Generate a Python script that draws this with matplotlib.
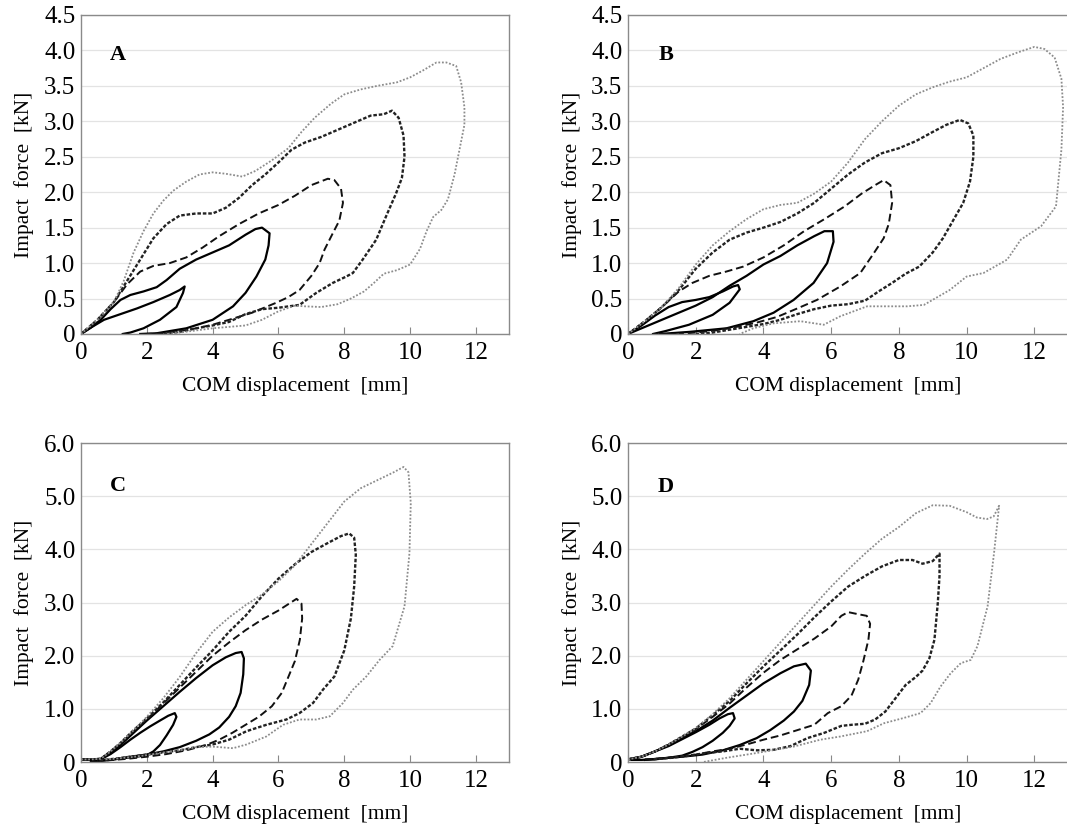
import matplotlib
matplotlib.use('Agg')
import matplotlib.pyplot as plt

plt.rcParams['font.family'] = ['Liberation Serif', 'DejaVu Serif']

# ---- Panel A ----
a_small_x = [0, 0.3, 0.7, 1.2, 1.7, 2.2, 2.7, 3.0, 3.15, 3.1, 2.9, 2.4, 1.9, 1.5, 1.27]
a_small_y = [0, 0.09, 0.2, 0.28, 0.36, 0.45, 0.55, 0.62, 0.67, 0.58, 0.38, 0.2, 0.08, 0.02, 0]
a_mid_x = [0, 0.3, 0.6, 0.9, 1.2, 1.5, 1.9, 2.3, 2.6, 3.0, 3.5, 4.0, 4.5, 5.0, 5.3, 5.5, 5.73,
           5.7, 5.6, 5.33, 5.0, 4.62, 4.0, 3.2, 2.3, 1.8]
a_mid_y = [0, 0.09, 0.2, 0.35, 0.48, 0.55, 0.6, 0.66, 0.76, 0.92, 1.05, 1.15, 1.25, 1.4, 1.48, 1.5, 1.42,
           1.25, 1.05, 0.81, 0.58, 0.39, 0.2, 0.08, 0.01, 0]
a_dash_x = [0, 0.5, 1.0, 1.4, 1.8, 2.2, 2.7, 3.2, 3.7, 4.2, 4.8, 5.4, 6.0, 6.5, 7.0, 7.5, 7.7, 7.9,
            7.96, 7.85, 7.65, 7.4, 7.25, 7.0, 6.64, 6.3, 5.93, 5.2, 4.5, 4.0, 3.5, 3.0, 2.5, 2.0]
a_dash_y = [0, 0.2, 0.45, 0.7, 0.88, 0.96, 1.0, 1.08, 1.22, 1.38, 1.55, 1.7, 1.82, 1.95, 2.1, 2.19, 2.17, 2.05,
            1.85, 1.6, 1.42, 1.19, 1.0, 0.82, 0.62, 0.52, 0.44, 0.3, 0.2, 0.13, 0.08, 0.04, 0.01, 0]
a_ddot_x = [0, 0.5, 1.0, 1.4, 1.8, 2.2, 2.6, 3.0, 3.5, 4.0, 4.4, 4.8, 5.2, 5.6, 6.0, 6.4, 6.8, 7.3, 7.8,
            8.3, 8.8, 9.2, 9.45, 9.65, 9.8, 9.83, 9.75, 9.57, 9.27, 8.97, 8.56, 8.26, 8.06, 7.65, 7.15, 6.64,
            6.0, 5.5, 5.0, 4.5, 4.0, 3.5, 3.0, 2.5]
a_ddot_y = [0, 0.2, 0.45, 0.75, 1.05, 1.35, 1.55, 1.67, 1.7, 1.7, 1.78, 1.92, 2.1, 2.25, 2.42, 2.6, 2.7, 2.78, 2.88,
            2.98, 3.08, 3.1, 3.15, 3.05, 2.8, 2.5, 2.2, 1.98, 1.66, 1.33, 1.05, 0.86, 0.81, 0.72, 0.58, 0.41,
            0.37, 0.35, 0.28, 0.17, 0.12, 0.08, 0.03, 0]
a_dot_x = [0, 0.5, 1.0, 1.3, 1.6, 1.9, 2.2, 2.5, 2.8, 3.2, 3.6, 4.0, 4.4, 4.9, 5.3, 5.8, 6.3, 6.7, 7.1, 7.6,
           8.0, 8.5, 9.0, 9.6, 10.0, 10.4, 10.8, 11.1, 11.4, 11.55, 11.65, 11.65, 11.5, 11.35, 11.15, 10.95,
           10.7, 10.5, 10.3, 10.0, 9.6, 9.2, 8.9, 8.6, 8.2, 7.8, 7.3, 6.8, 6.5, 6.0, 5.5, 5.0, 4.5, 4.0,
           3.5, 3.0, 2.6]
a_dot_y = [0, 0.2, 0.45, 0.75, 1.15, 1.45, 1.7, 1.88, 2.02, 2.15, 2.25, 2.28, 2.26, 2.22, 2.3, 2.45, 2.62, 2.85,
           3.05, 3.25, 3.38, 3.45, 3.5, 3.55, 3.62, 3.72, 3.83, 3.83, 3.78, 3.55, 3.2, 2.95, 2.6, 2.25, 1.9,
           1.75, 1.65, 1.45, 1.2, 0.98, 0.9, 0.85, 0.72, 0.6, 0.5, 0.42, 0.38, 0.39, 0.4, 0.32, 0.2, 0.12,
           0.1, 0.08, 0.05, 0.02, 0]

# ---- Panel B ----
b_small_x = [0, 0.4, 0.8, 1.2, 1.6, 2.0, 2.4, 2.8, 3.1, 3.25, 3.3, 3.0, 2.5, 1.8, 1.1, 0.74]
b_small_y = [0, 0.12, 0.26, 0.38, 0.45, 0.48, 0.52, 0.6, 0.67, 0.69, 0.63, 0.44, 0.27, 0.13, 0.04, 0]
b_mid_x = [0, 0.5, 1.0, 1.5, 2.0, 2.5, 3.0, 3.5, 4.0, 4.5, 5.0, 5.5, 5.8, 6.05, 6.07, 5.88, 5.48, 4.89,
           4.3, 3.7, 2.91, 1.83, 0.94]
b_mid_y = [0, 0.1, 0.2, 0.3, 0.4, 0.52, 0.68, 0.82, 0.98, 1.1, 1.25, 1.38, 1.45, 1.45, 1.3, 1.0, 0.72, 0.48,
           0.3, 0.18, 0.08, 0.03, 0]
b_dash_x = [0, 0.5, 1.0, 1.5, 1.9, 2.4, 2.9, 3.4, 4.0, 4.6, 5.2, 5.8, 6.4, 6.9, 7.3, 7.55, 7.75, 7.8,
            7.7, 7.55, 7.26, 6.86, 6.27, 5.58, 5.0, 4.4, 3.8, 3.2, 2.6, 2.0, 1.5]
b_dash_y = [0, 0.18, 0.38, 0.6, 0.72, 0.82, 0.88, 0.95, 1.08, 1.25, 1.45, 1.62, 1.8, 1.98, 2.1, 2.17, 2.1, 1.85,
            1.55, 1.35, 1.14, 0.86, 0.67, 0.48, 0.36, 0.24, 0.16, 0.1, 0.05, 0.02, 0]
b_ddot_x = [0, 0.5, 1.0, 1.5, 2.0, 2.5, 3.0, 3.5, 4.0, 4.5, 5.0, 5.5, 6.0, 6.5, 7.0, 7.5, 8.0, 8.5, 9.0,
            9.4, 9.8, 10.05, 10.2, 10.2, 10.1, 9.9, 9.6, 9.3, 9.0, 8.6, 8.2, 7.8, 7.4, 7.0, 6.5, 6.0, 5.5,
            5.0, 4.5, 4.0, 3.5, 3.0, 2.5, 2.0]
b_ddot_y = [0, 0.18, 0.38, 0.62, 0.92, 1.15, 1.33, 1.43, 1.5, 1.58, 1.7, 1.85, 2.05, 2.25, 2.42, 2.55, 2.62, 2.72,
            2.85, 2.95, 3.02, 2.97, 2.8, 2.5, 2.15, 1.85, 1.6, 1.35, 1.15, 0.95, 0.85, 0.72, 0.6, 0.47, 0.42,
            0.4, 0.35, 0.28, 0.2, 0.14, 0.1, 0.06, 0.02, 0]
b_dot_x = [0, 0.5, 1.0, 1.5, 2.0, 2.5, 3.0, 3.5, 4.0, 4.5, 5.0, 5.5, 6.0, 6.5, 7.0, 7.5, 8.0, 8.5, 9.0,
           9.5, 10.0, 10.5, 11.0, 11.5, 12.0, 12.3, 12.6, 12.8, 12.85, 12.8, 12.64, 12.2, 11.6, 11.2, 10.5,
           10.0, 9.5, 8.74, 8.25, 7.06, 6.27, 5.78, 5.09, 4.3, 3.7, 3.3]
b_dot_y = [0, 0.18, 0.38, 0.65, 0.98, 1.25, 1.45, 1.62, 1.76, 1.82, 1.85, 1.98, 2.15, 2.42, 2.75, 3.0, 3.22,
           3.38, 3.48, 3.56, 3.62, 3.75, 3.88, 3.97, 4.05, 4.02, 3.9, 3.6, 3.2, 2.6, 1.8, 1.52, 1.33, 1.05,
           0.86, 0.81, 0.62, 0.41, 0.39, 0.39, 0.25, 0.13, 0.18, 0.15, 0.08, 0]

# ---- Panel C ----
c_small_x = [0, 0.3, 0.6, 0.9, 1.2, 1.5, 1.8, 2.1, 2.4, 2.65, 2.85, 2.9, 2.8, 2.6, 2.4, 2.2, 2.0, 1.7,
             1.4, 1.0, 0.6, 0.3]
c_small_y = [0.05, 0.04, 0.05, 0.15, 0.28, 0.42, 0.55, 0.67, 0.78, 0.87, 0.92, 0.85, 0.7, 0.5, 0.32, 0.2,
             0.13, 0.1, 0.08, 0.05, 0.02, 0.02]
c_mid_x = [0, 0.3, 0.6, 0.9, 1.2, 1.6, 2.0, 2.5, 3.0, 3.5, 4.0, 4.4, 4.7, 4.88, 4.95, 4.93, 4.85, 4.7,
           4.5, 4.2, 3.9, 3.5, 3.0, 2.5, 2.0, 1.5, 1.0, 0.5]
c_mid_y = [0.05, 0.05, 0.06, 0.18, 0.32, 0.55, 0.78, 1.05, 1.32, 1.58, 1.82, 1.97, 2.05, 2.07, 1.95, 1.65,
           1.3, 1.05, 0.85, 0.65, 0.52, 0.4, 0.28, 0.2, 0.14, 0.1, 0.05, 0.02]
c_dash_x = [0, 0.3, 0.6, 0.9, 1.2, 1.6, 2.0, 2.5, 3.0, 3.5, 4.0, 4.5, 5.0, 5.5, 6.0, 6.3, 6.55, 6.7,
            6.72, 6.65, 6.5, 6.3, 6.1, 5.8, 5.4, 5.0, 4.6, 4.2, 3.8, 3.2, 2.6, 2.0, 1.4, 0.8]
c_dash_y = [0.05, 0.05, 0.06, 0.2, 0.35, 0.58, 0.8, 1.1, 1.4, 1.7, 2.0, 2.25, 2.48, 2.68, 2.85, 2.97, 3.07,
            2.98, 2.7, 2.3, 1.9, 1.6, 1.3, 1.05, 0.85, 0.7, 0.55, 0.42, 0.32, 0.22, 0.15, 0.1, 0.06, 0.03]
c_ddot_x = [0, 0.3, 0.6, 0.9, 1.2, 1.6, 2.0, 2.5, 3.0, 3.5, 4.0, 4.5, 5.0, 5.5, 6.0, 6.5, 7.0, 7.5, 7.9,
            8.15, 8.3, 8.35, 8.3, 8.2, 8.0, 7.7, 7.35, 7.05, 6.64, 6.24, 5.63, 5.03, 4.5, 4.0, 3.5, 3.0,
            2.5, 2.0, 1.5, 1.0, 0.5]
c_ddot_y = [0.05, 0.05, 0.06, 0.2, 0.36, 0.6, 0.82, 1.12, 1.45, 1.78, 2.1, 2.45, 2.75, 3.12, 3.45, 3.72, 3.95,
            4.12, 4.25, 4.3, 4.22, 3.9, 3.3, 2.7, 2.1, 1.61, 1.36, 1.11, 0.92, 0.8, 0.7, 0.58, 0.42, 0.33,
            0.28, 0.22, 0.18, 0.14, 0.1, 0.06, 0.03]
c_dot_x = [0, 0.3, 0.6, 0.9, 1.2, 1.6, 2.0, 2.5, 3.0, 3.5, 4.0, 4.5, 5.0, 5.5, 6.0, 6.5, 7.0, 7.5, 8.0,
           8.5, 9.0, 9.5, 9.8, 9.95, 10.02, 9.98, 9.83, 9.47, 9.07, 8.67, 8.26, 7.96, 7.56, 7.15, 6.64,
           6.14, 5.63, 5.03, 4.62, 4.0, 3.5, 3.0, 2.5, 2.0, 1.5, 1.0, 0.7]
c_dot_y = [0.05, 0.05, 0.06, 0.2, 0.36, 0.6, 0.85, 1.2, 1.6, 2.05, 2.45, 2.72, 2.95, 3.15, 3.4, 3.7, 4.1, 4.5,
           4.9, 5.15, 5.3, 5.45, 5.55, 5.45, 4.87, 3.93, 2.93, 2.18, 1.92, 1.61, 1.36, 1.11, 0.86, 0.8, 0.8,
           0.7, 0.48, 0.33, 0.26, 0.29, 0.28, 0.22, 0.18, 0.13, 0.09, 0.06, 0.05]

# ---- Panel D ----
d_small_x = [0, 0.4, 0.8, 1.2, 1.6, 2.0, 2.4, 2.7, 2.95, 3.1, 3.15, 3.0, 2.8, 2.5, 2.2, 1.9, 1.6, 1.2,
             0.8, 0.4, 0.1]
d_small_y = [0.05, 0.1, 0.2, 0.3, 0.43, 0.56, 0.7, 0.82, 0.9, 0.92, 0.82, 0.68, 0.55, 0.4, 0.28, 0.19, 0.12,
             0.08, 0.05, 0.04, 0.04]
d_mid_x = [0, 0.4, 0.8, 1.2, 1.6, 2.0, 2.5, 3.0, 3.5, 4.0, 4.5, 4.9, 5.25, 5.4, 5.35, 5.15, 4.9, 4.6,
           4.2, 3.8, 3.3, 2.8, 2.2, 1.6, 1.0, 0.5]
d_mid_y = [0.05, 0.1, 0.2, 0.32, 0.45, 0.58, 0.78, 1.02, 1.25, 1.48, 1.67, 1.8, 1.85, 1.72, 1.45, 1.15, 0.95,
           0.78, 0.6, 0.45, 0.32, 0.22, 0.14, 0.1, 0.07, 0.04]
d_dash_x = [0, 0.4, 0.8, 1.2, 1.6, 2.0, 2.5, 3.0, 3.5, 4.0, 4.5, 5.0, 5.5, 6.0, 6.3, 6.5, 6.8, 7.05,
            7.15, 7.1, 6.95, 6.8, 6.6, 6.3, 5.9, 5.5, 5.0, 4.5, 4.0, 3.5, 3.0, 2.5, 2.0, 1.5, 1.0, 0.5]
d_dash_y = [0.05, 0.1, 0.2, 0.33, 0.47, 0.62, 0.85, 1.1, 1.4, 1.68, 1.92, 2.12, 2.32, 2.55, 2.75, 2.82, 2.78,
            2.75, 2.6, 2.3, 1.9, 1.55, 1.25, 1.05, 0.92, 0.7, 0.6, 0.5, 0.42, 0.33, 0.25, 0.2, 0.14, 0.1,
            0.07, 0.05]
d_ddot_x = [0, 0.4, 0.8, 1.2, 1.6, 2.0, 2.5, 3.0, 3.5, 4.0, 4.5, 5.0, 5.5, 6.0, 6.5, 7.0, 7.5, 8.0, 8.4,
            8.7, 9.0, 9.2, 9.2, 9.15, 9.05, 8.9, 8.7, 8.5, 8.2, 7.9, 7.6, 7.3, 7.0, 6.6, 6.3, 5.8, 5.3,
            4.8, 4.3, 3.8, 3.3, 2.8, 2.3, 1.8, 1.3, 0.7]
d_ddot_y = [0.05, 0.1, 0.2, 0.33, 0.48, 0.63, 0.88, 1.15, 1.48, 1.8, 2.1, 2.4, 2.72, 3.02, 3.3, 3.5, 3.68,
            3.8, 3.8, 3.73, 3.78, 3.92, 3.5, 3.0, 2.3, 1.95, 1.72, 1.6, 1.45, 1.2, 0.95, 0.8, 0.72, 0.7,
            0.68, 0.55, 0.45, 0.3, 0.23, 0.22, 0.25, 0.2, 0.17, 0.12, 0.08, 0.05]
d_dot_x = [0, 0.4, 0.8, 1.2, 1.6, 2.0, 2.5, 3.0, 3.5, 4.0, 4.5, 5.0, 5.5, 6.0, 6.5, 7.0, 7.5, 8.0, 8.5,
           9.0, 9.5, 10.0, 10.3, 10.6, 10.8, 10.96, 10.81, 10.62, 10.32, 10.12, 9.83, 9.53, 9.23, 8.94,
           8.64, 8.15, 7.56, 7.06, 6.27, 5.68, 4.89, 3.8, 2.91, 2.22]
d_dot_y = [0.05, 0.1, 0.2, 0.33, 0.48, 0.64, 0.9, 1.2, 1.55, 1.9, 2.25, 2.6, 2.95, 3.3, 3.62, 3.92, 4.2, 4.42,
           4.68, 4.83, 4.82, 4.7, 4.6, 4.57, 4.62, 4.82, 3.93, 2.93, 2.18, 1.92, 1.86, 1.67, 1.42, 1.11,
           0.92, 0.83, 0.73, 0.58, 0.48, 0.42, 0.29, 0.17, 0.08, 0]

x_ticks = [0, 2, 4, 6, 8, 10, 12]
yticks_top = [0, 0.5, 1.0, 1.5, 2.0, 2.5, 3.0, 3.5, 4.0, 4.5]
yticks_bottom = [0, 1.0, 2.0, 3.0, 4.0, 5.0, 6.0]

# loop styles: small solid, mid solid, dashed, dense dotted, grey dotted
styles = [
    dict(color='black', lw=1.6, ls='-'),
    dict(color='black', lw=1.6, ls='-'),
    dict(color='#111111', lw=1.4, ls=(0, (4, 2))),
    dict(color='#222222', lw=1.7, ls=(0, (1.5, 0.8))),
    dict(color='#8c8c8c', lw=1.3, ls=(0, (1, 1))),
]


def style_axis(ax, yticks, ymax, letter, letter_y):
    ax.set_xlim(0, 13)
    ax.set_ylim(0, ymax)
    ax.set_xticks(x_ticks)
    ax.set_yticks(yticks)
    ax.set_yticklabels(['0' if t == 0 else f'{t:.1f}' for t in yticks])
    ax.tick_params(axis='x', direction='in', length=5, color='#888888', labelsize=18, pad=6)
    ax.tick_params(axis='y', length=0, labelsize=18, pad=4)
    for s in ax.spines.values():
        s.set_color('#8a8a8a')
        s.set_linewidth(1.0)
    ax.grid(True, axis='y', color='#e3e3e3', linewidth=0.9)
    ax.set_axisbelow(True)
    ax.set_xlabel('COM displacement  [mm]', fontsize=15.5, labelpad=9)
    ax.set_ylabel('Impact  force  [kN]', fontsize=15.5, labelpad=7)
    ax.text(0.086, letter_y, letter, transform=ax.transAxes, fontsize=16,
            fontweight='bold', ha='center', va='center')


fig = plt.figure(figsize=(10.67, 8.32), dpi=100)

panels = [
    ('A', [0.0759, 0.5986, 0.401, 0.3834], yticks_top, 4.5, 0.875,
     [(a_small_x, a_small_y), (a_mid_x, a_mid_y), (a_dash_x, a_dash_y), (a_ddot_x, a_ddot_y), (a_dot_x, a_dot_y)]),
    ('B', [0.5886, 0.5986, 0.4125, 0.3834], yticks_top, 4.5, 0.875,
     [(b_small_x, b_small_y), (b_mid_x, b_mid_y), (b_dash_x, b_dash_y), (b_ddot_x, b_ddot_y), (b_dot_x, b_dot_y)]),
    ('C', [0.0759, 0.0841, 0.401, 0.3834], yticks_bottom, 6.0, 0.865,
     [(c_small_x, c_small_y), (c_mid_x, c_mid_y), (c_dash_x, c_dash_y), (c_ddot_x, c_ddot_y), (c_dot_x, c_dot_y)]),
    ('D', [0.5886, 0.0841, 0.4125, 0.3834], yticks_bottom, 6.0, 0.862,
     [(d_small_x, d_small_y), (d_mid_x, d_mid_y), (d_dash_x, d_dash_y), (d_ddot_x, d_ddot_y), (d_dot_x, d_dot_y)]),
]

for letter, rect, yticks, ymax, letter_y, loops in panels:
    ax = fig.add_axes(rect)
    style_axis(ax, yticks, ymax, letter, letter_y)
    for (xs, ys), st in zip(loops, styles):
        ax.plot(xs, ys, color=st['color'], linewidth=st['lw'], linestyle=st['ls'],
                solid_joinstyle='round', dash_joinstyle='round')

fig.savefig('out.png', dpi=100)
